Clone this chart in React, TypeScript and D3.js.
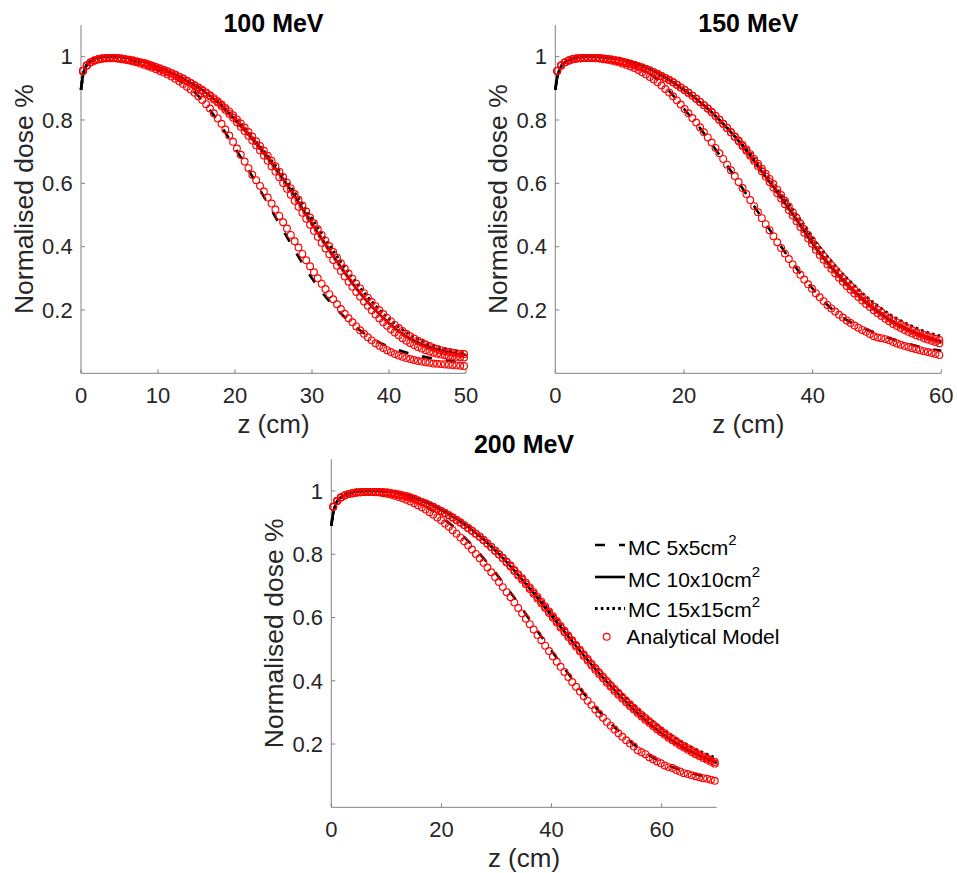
import React from 'react';
import * as d3 from 'd3';

// ---------- shared tick data ----------
const Y_TICKS = [0.2, 0.4, 0.6, 0.8, 1];
const Y_TICK_LABELS = ['0.2', '0.4', '0.6', '0.8', '1'];
const Y_LABEL = 'Normalised dose %';
const X_LABEL = 'z (cm)';
const LEGEND_LABELS = ['MC 5x5cm', 'MC 10x10cm', 'MC 15x15cm', 'Analytical Model'];

// ---------- 100 MeV ----------
const TITLE_100 = '100 MeV';
const XMAX_100 = 50;
const XTICKS_100 = [0, 10, 20, 30, 40, 50];
const MC_Z_100 = [0, 0.25, 0.5, 1, 1.5, 2, 3, 4, 5, 6, 8, 10, 12, 14, 16, 18, 20, 22, 24, 26, 28, 30, 32, 34, 36, 38, 40, 42, 44, 46, 48, 50];
const MC5_100 = [0.895, 0.94, 0.962, 0.98, 0.99, 0.995, 0.999, 0.999, 0.996, 0.992, 0.978, 0.96, 0.935, 0.905, 0.855, 0.788, 0.712, 0.632, 0.547, 0.462, 0.378, 0.30, 0.235, 0.183, 0.14, 0.107, 0.084, 0.067, 0.055, 0.046, 0.039, 0.032];
const MC10_100 = [0.895, 0.94, 0.962, 0.98, 0.99, 0.995, 0.999, 1.0, 0.999, 0.996, 0.985, 0.968, 0.946, 0.92, 0.89, 0.85, 0.80, 0.748, 0.688, 0.622, 0.55, 0.472, 0.398, 0.326, 0.26, 0.205, 0.158, 0.12, 0.094, 0.077, 0.066, 0.058];
const MC15_100 = [0.895, 0.94, 0.962, 0.98, 0.99, 0.995, 0.999, 1.0, 0.999, 0.996, 0.985, 0.968, 0.946, 0.921, 0.892, 0.853, 0.803, 0.753, 0.695, 0.632, 0.562, 0.488, 0.415, 0.343, 0.278, 0.22, 0.172, 0.133, 0.105, 0.086, 0.074, 0.066];
const AN_START_100 = 0.25;
const AN_STEP_100 = 0.5;
const AN5_100 = [
  0.955, 0.972, 0.982, 0.988, 0.992, 0.994, 0.995, 0.995, 0.995, 0.994,
  0.992, 0.99, 0.988, 0.985, 0.982, 0.978, 0.974, 0.97, 0.965, 0.96,
  0.955, 0.95, 0.944, 0.937, 0.93, 0.922, 0.914, 0.905, 0.896, 0.886,
  0.875, 0.863, 0.85, 0.836, 0.821, 0.805, 0.788, 0.77, 0.751, 0.731,
  0.71, 0.69, 0.669, 0.648, 0.627, 0.61, 0.592, 0.574, 0.555, 0.536,
  0.517, 0.497, 0.477, 0.457, 0.437, 0.417, 0.397, 0.377, 0.357, 0.338,
  0.319, 0.30, 0.283, 0.266, 0.25, 0.234, 0.218, 0.203, 0.188, 0.174,
  0.161, 0.148, 0.136, 0.125, 0.114, 0.104, 0.095, 0.087, 0.08, 0.073,
  0.067, 0.061, 0.056, 0.052, 0.048, 0.045, 0.042, 0.039, 0.037, 0.035,
  0.033, 0.031, 0.03, 0.029, 0.028, 0.027, 0.026, 0.025, 0.024, 0.023,
];
const AN10_100 = [
  0.955, 0.972, 0.982, 0.988, 0.992, 0.994, 0.995, 0.996, 0.996, 0.995,
  0.994, 0.992, 0.99, 0.988, 0.985, 0.982, 0.979, 0.975, 0.971, 0.967,
  0.963, 0.958, 0.953, 0.948, 0.942, 0.936, 0.93, 0.923, 0.916, 0.909,
  0.901, 0.893, 0.884, 0.875, 0.865, 0.855, 0.844, 0.832, 0.82, 0.807,
  0.793, 0.779, 0.765, 0.75, 0.735, 0.72, 0.704, 0.688, 0.671, 0.654,
  0.637, 0.619, 0.601, 0.583, 0.564, 0.545, 0.526, 0.507, 0.488, 0.469,
  0.45, 0.431, 0.412, 0.394, 0.376, 0.358, 0.34, 0.323, 0.306, 0.289,
  0.273, 0.257, 0.242, 0.227, 0.213, 0.199, 0.186, 0.173, 0.161, 0.15,
  0.139, 0.129, 0.12, 0.111, 0.103, 0.096, 0.089, 0.083, 0.078, 0.073,
  0.069, 0.065, 0.062, 0.059, 0.057, 0.055, 0.053, 0.052, 0.051, 0.05,
];
const AN15_100 = [
  0.955, 0.972, 0.982, 0.988, 0.992, 0.994, 0.995, 0.996, 0.996, 0.995,
  0.994, 0.992, 0.99, 0.988, 0.985, 0.982, 0.979, 0.975, 0.971, 0.967,
  0.963, 0.958, 0.953, 0.948, 0.943, 0.937, 0.931, 0.924, 0.917, 0.91,
  0.903, 0.895, 0.887, 0.878, 0.869, 0.859, 0.849, 0.838, 0.827, 0.815,
  0.802, 0.789, 0.776, 0.762, 0.748, 0.733, 0.718, 0.703, 0.687, 0.671,
  0.654, 0.637, 0.62, 0.602, 0.584, 0.566, 0.548, 0.53, 0.511, 0.492,
  0.474, 0.455, 0.437, 0.419, 0.401, 0.383, 0.365, 0.348, 0.331, 0.315,
  0.299, 0.283, 0.268, 0.253, 0.239, 0.225, 0.212, 0.199, 0.187, 0.175,
  0.164, 0.153, 0.143, 0.134, 0.125, 0.117, 0.11, 0.103, 0.097, 0.091,
  0.086, 0.081, 0.077, 0.073, 0.07, 0.067, 0.065, 0.063, 0.062, 0.061,
];

// ---------- 150 MeV ----------
const TITLE_150 = '150 MeV';
const XMAX_150 = 60;
const XTICKS_150 = [0, 20, 40, 60];
const MC_Z_150 = [0, 0.3, 0.6, 1, 1.5, 2, 3, 4, 5, 6, 8, 10, 12, 14, 16, 18, 20, 22, 24, 26, 28, 30, 32, 34, 36, 38, 40, 42, 44, 46, 48, 50, 52, 54, 56, 58, 60];
const MC5_150 = [0.895, 0.935, 0.955, 0.972, 0.982, 0.988, 0.995, 0.999, 1.0, 1.0, 0.997, 0.99, 0.975, 0.955, 0.926, 0.885, 0.835, 0.787, 0.733, 0.676, 0.618, 0.556, 0.494, 0.433, 0.374, 0.318, 0.267, 0.222, 0.186, 0.16, 0.142, 0.126, 0.111, 0.098, 0.087, 0.078, 0.071];
const MC10_150 = [0.895, 0.935, 0.955, 0.972, 0.982, 0.988, 0.995, 0.999, 1.0, 1.0, 0.997, 0.992, 0.982, 0.967, 0.947, 0.923, 0.895, 0.865, 0.83, 0.79, 0.745, 0.695, 0.64, 0.585, 0.528, 0.47, 0.41, 0.357, 0.31, 0.268, 0.23, 0.197, 0.168, 0.146, 0.127, 0.112, 0.1];
const MC15_150 = [0.895, 0.935, 0.955, 0.972, 0.982, 0.988, 0.995, 0.999, 1.0, 1.0, 0.997, 0.992, 0.982, 0.967, 0.947, 0.923, 0.895, 0.865, 0.83, 0.79, 0.746, 0.70, 0.648, 0.595, 0.542, 0.487, 0.428, 0.376, 0.329, 0.287, 0.248, 0.215, 0.186, 0.163, 0.144, 0.128, 0.117];
const AN_START_150 = 0.3;
const AN_STEP_150 = 0.6;
const AN5_150 = [
  0.955, 0.972, 0.982, 0.988, 0.992, 0.994, 0.995, 0.996, 0.996, 0.996,
  0.995, 0.994, 0.992, 0.99, 0.988, 0.985, 0.982, 0.978, 0.974, 0.969,
  0.964, 0.958, 0.951, 0.944, 0.936, 0.928, 0.919, 0.909, 0.898, 0.887,
  0.875, 0.862, 0.849, 0.835, 0.821, 0.806, 0.792, 0.777, 0.761, 0.745,
  0.729, 0.712, 0.695, 0.677, 0.659, 0.641, 0.623, 0.604, 0.585, 0.566,
  0.547, 0.528, 0.509, 0.49, 0.471, 0.452, 0.433, 0.414, 0.396, 0.378,
  0.361, 0.344, 0.327, 0.311, 0.296, 0.281, 0.267, 0.253, 0.24, 0.228,
  0.216, 0.205, 0.195, 0.185, 0.176, 0.167, 0.159, 0.151, 0.144, 0.137,
  0.131, 0.124, 0.117, 0.113, 0.111, 0.108, 0.104, 0.099, 0.094, 0.09,
  0.086, 0.083, 0.079, 0.076, 0.073, 0.07, 0.067, 0.064, 0.061, 0.058,
];
const AN10_150 = [
  0.955, 0.972, 0.982, 0.988, 0.992, 0.994, 0.995, 0.996, 0.996, 0.996,
  0.996, 0.995, 0.994, 0.993, 0.991, 0.989, 0.987, 0.984, 0.981, 0.978,
  0.974, 0.97, 0.966, 0.961, 0.956, 0.951, 0.945, 0.939, 0.933, 0.926,
  0.919, 0.911, 0.903, 0.895, 0.886, 0.877, 0.867, 0.857, 0.847, 0.836,
  0.825, 0.813, 0.801, 0.788, 0.775, 0.761, 0.747, 0.733, 0.718, 0.703,
  0.687, 0.671, 0.655, 0.638, 0.621, 0.604, 0.587, 0.569, 0.552, 0.534,
  0.516, 0.498, 0.48, 0.462, 0.444, 0.426, 0.409, 0.39, 0.374, 0.359,
  0.344, 0.33, 0.316, 0.302, 0.289, 0.276, 0.264, 0.252, 0.241, 0.23,
  0.219, 0.209, 0.199, 0.19, 0.181, 0.172, 0.164, 0.156, 0.149, 0.143,
  0.137, 0.131, 0.126, 0.12, 0.116, 0.111, 0.107, 0.103, 0.099, 0.095,
];
const AN15_150 = [
  0.955, 0.972, 0.982, 0.988, 0.992, 0.994, 0.995, 0.996, 0.996, 0.996,
  0.996, 0.995, 0.994, 0.993, 0.991, 0.989, 0.987, 0.984, 0.981, 0.978,
  0.974, 0.97, 0.966, 0.961, 0.956, 0.951, 0.945, 0.939, 0.933, 0.926,
  0.919, 0.911, 0.903, 0.895, 0.886, 0.877, 0.867, 0.857, 0.847, 0.836,
  0.825, 0.813, 0.801, 0.788, 0.775, 0.761, 0.748, 0.735, 0.721, 0.707,
  0.692, 0.677, 0.662, 0.646, 0.63, 0.614, 0.598, 0.58, 0.563, 0.545,
  0.527, 0.509, 0.491, 0.473, 0.455, 0.437, 0.42, 0.401, 0.385, 0.37,
  0.355, 0.341, 0.327, 0.313, 0.3, 0.287, 0.275, 0.263, 0.252, 0.241,
  0.23, 0.22, 0.21, 0.201, 0.192, 0.183, 0.175, 0.167, 0.16, 0.154,
  0.148, 0.142, 0.136, 0.13, 0.126, 0.121, 0.117, 0.113, 0.109, 0.105,
];

// ---------- 200 MeV ----------
const TITLE_200 = '200 MeV';
const XMAX_200 = 70;
const XTICKS_200 = [0, 20, 40, 60];
const MC_Z_200 = [0, 0.35, 0.7, 1, 1.5, 2, 3, 4, 5, 6, 8, 10, 12, 14, 16, 18, 20, 22, 24, 26, 28, 30, 32, 34, 36, 38, 40, 42, 44, 46, 48, 50, 52, 54, 56, 58, 60, 62, 64, 66, 68, 70];
const MC5_200 = [0.89, 0.93, 0.952, 0.965, 0.976, 0.983, 0.991, 0.996, 0.999, 1.0, 1.0, 0.998, 0.99, 0.978, 0.962, 0.942, 0.918, 0.89, 0.857, 0.82, 0.78, 0.737, 0.692, 0.644, 0.594, 0.543, 0.495, 0.447, 0.401, 0.357, 0.316, 0.278, 0.244, 0.212, 0.185, 0.162, 0.143, 0.127, 0.115, 0.105, 0.097, 0.091];
const MC10_200 = [0.89, 0.93, 0.952, 0.965, 0.976, 0.983, 0.991, 0.996, 0.999, 1.0, 1.0, 0.999, 0.994, 0.985, 0.973, 0.958, 0.94, 0.92, 0.897, 0.871, 0.842, 0.808, 0.772, 0.733, 0.692, 0.649, 0.605, 0.562, 0.519, 0.477, 0.436, 0.397, 0.36, 0.325, 0.292, 0.262, 0.234, 0.21, 0.189, 0.171, 0.155, 0.14];
const MC15_200 = [0.89, 0.93, 0.952, 0.965, 0.976, 0.983, 0.991, 0.996, 0.999, 1.0, 1.0, 0.999, 0.994, 0.985, 0.973, 0.958, 0.94, 0.92, 0.897, 0.871, 0.842, 0.81, 0.775, 0.737, 0.697, 0.655, 0.612, 0.57, 0.528, 0.487, 0.447, 0.409, 0.373, 0.339, 0.307, 0.277, 0.25, 0.225, 0.204, 0.185, 0.169, 0.155];
const AN_START_200 = 0.35;
const AN_STEP_200 = 0.7;
const AN5_200 = [
  0.95, 0.968, 0.979, 0.986, 0.99, 0.993, 0.995, 0.996, 0.997, 0.997,
  0.997, 0.996, 0.995, 0.993, 0.991, 0.988, 0.985, 0.981, 0.977, 0.972,
  0.967, 0.961, 0.955, 0.948, 0.941, 0.933, 0.925, 0.916, 0.907, 0.897,
  0.887, 0.876, 0.865, 0.853, 0.841, 0.828, 0.815, 0.801, 0.787, 0.773,
  0.758, 0.743, 0.728, 0.712, 0.696, 0.68, 0.664, 0.647, 0.63, 0.613,
  0.596, 0.579, 0.562, 0.545, 0.528, 0.511, 0.494, 0.477, 0.46, 0.444,
  0.428, 0.412, 0.396, 0.381, 0.366, 0.351, 0.337, 0.323, 0.309, 0.296,
  0.283, 0.27, 0.258, 0.246, 0.234, 0.223, 0.212, 0.202, 0.192, 0.18,
  0.174, 0.168, 0.158, 0.152, 0.145, 0.139, 0.132, 0.127, 0.124, 0.118,
  0.113, 0.108, 0.105, 0.101, 0.098, 0.095, 0.092, 0.09, 0.087, 0.084,
];
const AN10_200 = [
  0.95, 0.968, 0.979, 0.986, 0.99, 0.993, 0.995, 0.996, 0.997, 0.997,
  0.997, 0.997, 0.997, 0.996, 0.995, 0.993, 0.991, 0.989, 0.986, 0.983,
  0.979, 0.975, 0.97, 0.965, 0.96, 0.955, 0.949, 0.943, 0.937, 0.93,
  0.923, 0.916, 0.908, 0.9, 0.892, 0.883, 0.874, 0.865, 0.855, 0.845,
  0.834, 0.823, 0.811, 0.799, 0.787, 0.774, 0.761, 0.747, 0.733, 0.719,
  0.705, 0.69, 0.675, 0.66, 0.645, 0.63, 0.614, 0.599, 0.584, 0.568,
  0.553, 0.538, 0.523, 0.508, 0.493, 0.478, 0.464, 0.449, 0.435, 0.421,
  0.408, 0.394, 0.381, 0.368, 0.356, 0.344, 0.332, 0.32, 0.309, 0.298,
  0.287, 0.277, 0.267, 0.257, 0.247, 0.238, 0.229, 0.22, 0.212, 0.204,
  0.196, 0.189, 0.182, 0.175, 0.168, 0.162, 0.156, 0.15, 0.144, 0.138,
];
const AN15_200 = [
  0.95, 0.968, 0.979, 0.986, 0.99, 0.993, 0.995, 0.996, 0.997, 0.997,
  0.997, 0.997, 0.997, 0.996, 0.995, 0.993, 0.991, 0.989, 0.986, 0.983,
  0.979, 0.975, 0.97, 0.965, 0.96, 0.955, 0.949, 0.943, 0.937, 0.93,
  0.923, 0.916, 0.908, 0.9, 0.892, 0.883, 0.874, 0.865, 0.855, 0.845,
  0.834, 0.823, 0.811, 0.8, 0.789, 0.776, 0.764, 0.75, 0.737, 0.724,
  0.71, 0.695, 0.68, 0.665, 0.65, 0.635, 0.619, 0.604, 0.589, 0.573,
  0.558, 0.543, 0.528, 0.513, 0.498, 0.483, 0.469, 0.454, 0.44, 0.426,
  0.413, 0.399, 0.386, 0.373, 0.361, 0.349, 0.337, 0.325, 0.314, 0.303,
  0.292, 0.282, 0.272, 0.262, 0.252, 0.243, 0.234, 0.225, 0.217, 0.209,
  0.201, 0.194, 0.187, 0.18, 0.173, 0.167, 0.161, 0.155, 0.149, 0.143,
];

// ---------- assembled panels ----------
const PANELS = [
  { title: TITLE_100, xMax: XMAX_100, xTicks: XTICKS_100, mcZ: MC_Z_100, mc: [MC5_100, MC10_100, MC15_100], anStart: AN_START_100, anStep: AN_STEP_100, an: [AN5_100, AN10_100, AN15_100] },
  { title: TITLE_150, xMax: XMAX_150, xTicks: XTICKS_150, mcZ: MC_Z_150, mc: [MC5_150, MC10_150, MC15_150], anStart: AN_START_150, anStep: AN_STEP_150, an: [AN5_150, AN10_150, AN15_150] },
  { title: TITLE_200, xMax: XMAX_200, xTicks: XTICKS_200, mcZ: MC_Z_200, mc: [MC5_200, MC10_200, MC15_200], anStart: AN_START_200, anStep: AN_STEP_200, an: [AN5_200, AN10_200, AN15_200] },
];

// ---------- layout / style (not data) ----------
const W = 957;
const H = 873;
const BOXES = [
  { left: 81, right: 466, top: 25, bottom: 373.3, titleY: 31.7 },
  { left: 555.3, right: 941.3, top: 25, bottom: 373.3, titleY: 31.7 },
  { left: 331.3, right: 716.7, top: 459.3, bottom: 807.3, titleY: 453.3 },
];
const FONT = '"Liberation Sans", Arial, Helvetica, sans-serif';
const TEXT = '#262626';
const AXIS = '#808080';
const RED = '#ff0000';
const MARKER_R = 3.4;
const MARKER_W = 1.15;
const LINE_STYLES = [
  { dash: '10,14', width: 2.6 },
  { dash: null, width: 2.6 },
  { dash: '2.6,3.2', width: 2.8 },
];

function Panel({ p, b }: { p: any; b: any }) {
  const x = d3.scaleLinear().domain([0, p.xMax]).range([b.left, b.right]);
  const y = d3.scaleLinear().domain([0, 1.1]).range([b.bottom, b.top]);
  const mk = (vals: number[]) =>
    d3.line<number>()
      .x((_, i) => x(p.mcZ[i]))
      .y((d) => y(d))
      .curve(d3.curveMonotoneX)(vals) || '';
  const cy = (b.top + b.bottom) / 2;
  return (
    <g>
      <line x1={b.left} x2={b.left} y1={b.top} y2={b.bottom} stroke={AXIS} strokeWidth={1} />
      <line x1={b.left} x2={b.right} y1={b.bottom} y2={b.bottom} stroke={AXIS} strokeWidth={1} />
      {p.xTicks.map((t: number) => (
        <g key={'xt' + t}>
          <line x1={x(t)} x2={x(t)} y1={b.bottom} y2={b.bottom - 4} stroke={AXIS} strokeWidth={1} />
          <text x={x(t)} y={b.bottom + 30} textAnchor="middle" fontSize={22} fill={TEXT}>{t}</text>
        </g>
      ))}
      {Y_TICKS.map((t, i) => (
        <g key={'yt' + t}>
          <line x1={b.left} x2={b.left + 4} y1={y(t)} y2={y(t)} stroke={AXIS} strokeWidth={1} />
          <text x={b.left - 8.3} y={y(t) + 7.8} textAnchor="end" fontSize={22} fill={TEXT}>{Y_TICK_LABELS[i]}</text>
        </g>
      ))}
      <text x={(b.left + b.right) / 2} y={b.bottom + 59.4} textAnchor="middle" fontSize={26} fill={TEXT}>{X_LABEL}</text>
      <text transform={`translate(${b.left - 48},${cy}) rotate(-90)`} textAnchor="middle" fontSize={26.5} fill={TEXT}>{Y_LABEL}</text>
      <text x={(b.left + b.right) / 2} y={b.titleY} textAnchor="middle" fontSize={25} fontWeight="bold" fill="#000">{p.title}</text>
      {p.mc.map((vals: number[], k: number) => (
        <path key={'mc' + k} d={mk(vals)} fill="none" stroke="#000" strokeWidth={LINE_STYLES[k].width}
          strokeDasharray={LINE_STYLES[k].dash || undefined} />
      ))}
      {p.an.map((vals: number[], k: number) => (
        <g key={'an' + k}>
          {vals.map((v: number, i: number) => (
            <circle key={i} cx={x(p.anStart + i * p.anStep)} cy={y(v)} r={MARKER_R} fill="none" stroke={RED} strokeWidth={MARKER_W} />
          ))}
        </g>
      ))}
    </g>
  );
}

function Legend() {
  const lx0 = 595;
  const lx1 = 625;
  const tx = 628;
  const rows = [
    { ly: 545, ty: 555 },
    { ly: 577, ty: 586.7 },
    { ly: 608.5, ty: 617 },
    { ly: 636.7, ty: 644 },
  ];
  return (
    <g fontSize={21} fill="#000">
      {[0, 1, 2].map((k) => (
        <g key={k}>
          <line x1={lx0} x2={lx1} y1={rows[k].ly} y2={rows[k].ly} stroke="#000" strokeWidth={LINE_STYLES[k].width}
            strokeDasharray={LINE_STYLES[k].dash || undefined} />
          <text x={tx} y={rows[k].ty}>
            {LEGEND_LABELS[k]}
            <tspan fontSize={15} dy={-10}>2</tspan>
          </text>
        </g>
      ))}
      <circle cx={606.7} cy={rows[3].ly} r={MARKER_R} fill="none" stroke={RED} strokeWidth={MARKER_W} />
      <text x={626.5} y={rows[3].ty}>{LEGEND_LABELS[3]}</text>
    </g>
  );
}

export default function App() {
  return (
    <svg width={W} height={H} viewBox={`0 0 ${W} ${H}`} fontFamily={FONT}
      style={{ position: 'absolute', left: 0, top: 0, background: '#fff', display: 'block' }}>
      <rect x={0} y={0} width={W} height={H} fill="#fff" />
      {PANELS.map((p, i) => (
        <Panel key={i} p={p} b={BOXES[i]} />
      ))}
      <Legend />
    </svg>
  );
}
